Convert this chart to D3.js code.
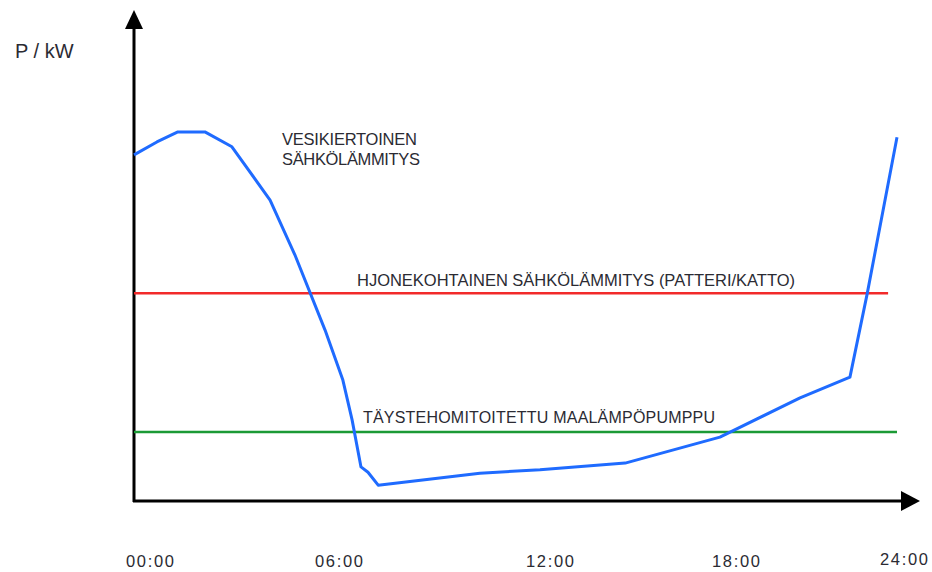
<!DOCTYPE html>
<html>
<head>
<meta charset="utf-8">
<script src="https://cdn.jsdelivr.net/npm/d3@7"></script>
<style>
  body { margin: 0; background: #fff; }
  text { font-family: "Liberation Sans", Arial, sans-serif; fill: #2b2b33; }
</style>
</head>
<body>
<div id="chart"></div>
<script>
// ============ DATA ============
// hours of the day and relative power (arbitrary units)
const hours = [0, 0.72, 1.38, 2.23, 3.08, 4.28, 5.06, 6.01, 6.57, 6.86, 7.14, 7.36, 7.68, 10.88, 12.77, 15.45, 18.43, 20.95, 22.52, 23.06, 24];
const waterHeating = [7.21, 7.48, 7.69, 7.69, 7.38, 6.27, 5.13, 3.56, 2.52, 1.69, 0.71, 0.60, 0.33, 0.58, 0.65, 0.79, 1.33, 2.15, 2.58, 4.31, 7.58];

const roomHeatingLevel = 4.33;   // red line
const roomHeatingEnd = 23.72;
const heatPumpLevel = 1.44;      // green line
const heatPumpEnd = 24;

const tickLabels = ["00:00", "06:00", "12:00", "18:00", "24:00"];
const labelWater = ["VESIKIERTOINEN", "SÄHKÖLÄMMITYS"];
const labelRoom = "HJONEKOHTAINEN SÄHKÖLÄMMITYS (PATTERI/KATTO)";
const labelPump = "TÄYSTEHOMITOITETTU MAALÄMPÖPUMPPU";
const yLabel = "P / kW";

// ============ SETUP ============
const W = 932, H = 572;
const svg = d3.select("#chart").append("svg")
    .attr("width", W)
    .attr("height", H);

const x = d3.scaleLinear().domain([0, 24]).range([134, 897]);
const y = d3.scaleLinear().domain([0, 10]).range([501, 21]);

// the time labels in the picture are not evenly spaced, so they get their own scale
const xLab = d3.scaleOrdinal().domain(tickLabels).range([150, 339, 550, 736, 904]);

// ============ AXES ============
svg.append("line")
    .attr("x1", 134).attr("x2", 134)
    .attr("y1", 26).attr("y2", 502)
    .attr("stroke", "#000").attr("stroke-width", 3);

svg.append("path")
    .attr("d", "M134,10 L125,29 L143,29 Z")
    .attr("fill", "#000");

svg.append("line")
    .attr("x1", 133).attr("x2", 904)
    .attr("y1", 501).attr("y2", 501)
    .attr("stroke", "#000").attr("stroke-width", 3);

svg.append("path")
    .attr("d", "M920,501 L901,491 L901,511 Z")
    .attr("fill", "#000");

svg.append("text")
    .attr("x", 15).attr("y", 58)
    .style("font-size", "20px")
    .text(yLabel);

svg.selectAll(".tick-label")
    .data(tickLabels)
    .enter()
    .append("text")
    .attr("class", "tick-label")
    .attr("x", d => xLab(d) - 24)
    .attr("y", (d, i) => i === tickLabels.length - 1 ? 565 : 567)
    .attr("textLength", 48)
    .style("font-size", "16.5px")
    .text(d => d);

// ============ LINES ============
svg.append("line")
    .attr("x1", x(0)).attr("x2", x(roomHeatingEnd))
    .attr("y1", y(roomHeatingLevel)).attr("y2", y(roomHeatingLevel))
    .attr("stroke", "#f22a2a").attr("stroke-width", 2.5);

svg.append("line")
    .attr("x1", x(0)).attr("x2", x(heatPumpEnd))
    .attr("y1", y(heatPumpLevel)).attr("y2", y(heatPumpLevel))
    .attr("stroke", "#1b9a35").attr("stroke-width", 2.5);

const line = d3.line()
    .x(d => x(d[0]))
    .y(d => y(d[1]));

svg.append("path")
    .datum(hours.map((h, i) => [h, waterHeating[i]]))
    .attr("fill", "none")
    .attr("stroke", "#1f6bff")
    .attr("stroke-width", 3)
    .attr("stroke-linejoin", "round")
    .attr("d", line);

// ============ ANNOTATIONS ============
labelWater.forEach((t, i) => {
    svg.append("text")
        .attr("x", 282).attr("y", 145 + i * 20)
        .style("font-size", "16.5px")
        .attr("textLength", i === 0 ? 135 : 138)
        .text(t);
});

svg.append("text")
    .attr("x", 357).attr("y", 286)
    .style("font-size", "16.5px")
    .attr("textLength", 438)
    .text(labelRoom);

svg.append("text")
    .attr("x", 363).attr("y", 423)
    .style("font-size", "16px")
    .attr("textLength", 352)
    .text(labelPump);
</script>
</body>
</html>
